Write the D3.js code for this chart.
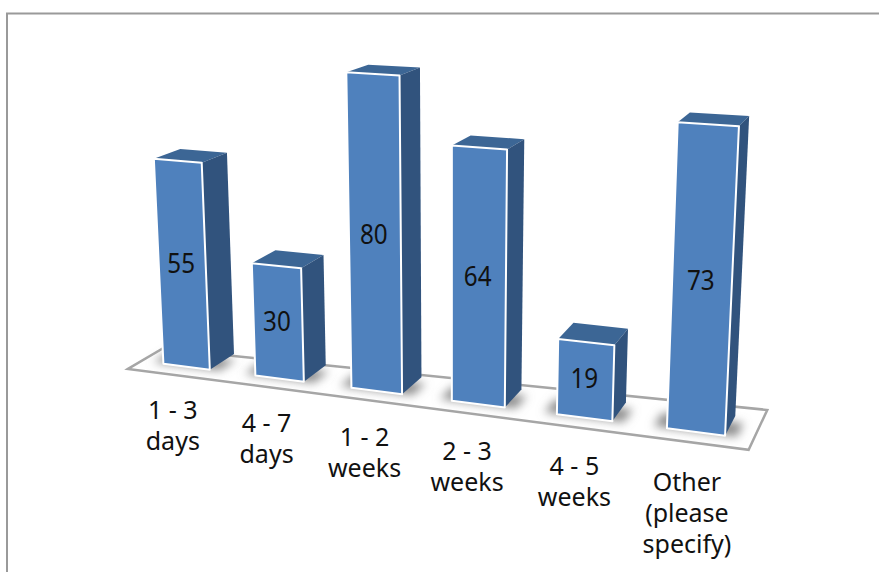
<!DOCTYPE html>
<html>
<head>
<meta charset="utf-8">
<script src="https://d3js.org/d3.v7.min.js"></script>
<style>
body { margin: 0; background: #fff; }
text { font-family: "Noto Sans", sans-serif; fill: #111; }
</style>
</head>
<body>
<svg id="chart" width="879" height="572"></svg>
<script>
const categories = [["1 - 3", "days"], ["4 - 7", "days"], ["1 - 2", "weeks"], ["2 - 3", "weeks"], ["4 - 5", "weeks"], ["Other", "(please", "specify)"]];
const values = [55, 30, 80, 64, 19, 73];

const svg = d3.select("#chart");

// column, height and depth in, screen out
const camX = [86.1211, -20.9694, 30.7583, 141.455];
const camY = [3.80301, -303.922, -4.95928, 360.944];
const camW = [-0.0210873, -0.0464667, 0.029665, 1];

const x = d3.scaleBand().domain(d3.range(categories.length)).range([0, 6]).paddingInner(0.49).paddingOuter(0.245);
const y = d3.scaleLinear().domain([0, 80]).range([0, 1]);

function project(cx, cy, cz) {
    const w = camW[0] * cx + camW[1] * cy + camW[2] * cz + camW[3];
    return [
        (camX[0] * cx + camX[1] * cy + camX[2] * cz + camX[3]) / w,
        (camY[0] * cx + camY[1] * cy + camY[2] * cz + camY[3]) / w
    ];
}

const line = d3.line().curve(d3.curveLinearClosed);
const face = pts => line(pts.map(p => project(p[0], p[1], p[2])));

const defs = svg.append("defs");
defs.append("filter").attr("id", "soft")
    .attr("x", "-40%").attr("y", "-40%").attr("width", "180%").attr("height", "180%")
    .append("feGaussianBlur").attr("stdDeviation", 5);

// chart border, runs off the picture on the right and at the bottom
svg.append("path")
    .attr("d", "M7,572V13.5H879")
    .attr("fill", "none")
    .attr("stroke", "#9a9a9a")
    .attr("stroke-width", 2);

// floor
svg.append("path")
    .attr("d", face([[0, 0, -0.5], [0, 0, 0.8], [6, 0, 1.5], [6, 0, -0.5]]))
    .attr("fill", "#fff")
    .attr("stroke", "#a6a6a6")
    .attr("stroke-width", 2.5)
    .attr("stroke-linejoin", "miter");

// soft shadows round the foot of each bar
svg.append("g").selectAll("path")
    .data(values)
    .enter().append("path")
    .attr("d", (d, i) => {
        const l = x(i) - 0.12, r = x(i) + x.bandwidth() + 0.1;
        return face([[l, 0, 0.02], [r, 0, 0.02], [r, 0, 0.7], [l, 0, 0.7]]);
    })
    .attr("fill", "#8c8c8c")
    .attr("filter", "url(#soft)");

const bars = svg.append("g").selectAll("g")
    .data(values)
    .enter().append("g");

// top
bars.append("path")
    .attr("d", (d, i) => {
        const l = x(i), r = l + x.bandwidth(), h = y(d);
        return face([[l, h, 0], [r, h, 0], [r, h, 1], [l, h, 1]]);
    })
    .attr("fill", "#3c6695");

// side
bars.append("path")
    .attr("d", (d, i) => {
        const r = x(i) + x.bandwidth(), h = y(d);
        return face([[r, 0, 0], [r, h, 0], [r, h, 1], [r, 0, 1]]);
    })
    .attr("fill", "#31537d");

// front
bars.append("path")
    .attr("d", (d, i) => {
        const l = x(i), r = l + x.bandwidth(), h = y(d);
        return face([[l, 0, 0], [r, 0, 0], [r, h, 0], [l, h, 0]]);
    })
    .attr("fill", "#4f81bd")
    .attr("stroke", "#fff")
    .attr("stroke-width", 2)
    .attr("stroke-linejoin", "round");

// value labels, the digits are tall and narrow in the picture
svg.append("g").selectAll("text")
    .data(values)
    .enter().append("text")
    .attr("transform", (d, i) => {
        const p = project(x(i) + x.bandwidth() / 2, y(d / 2), 0);
        return "translate(" + (p[0] - 1) + "," + (p[1] + 8) + ") scale(0.97,1.1)";
    })
    .attr("text-anchor", "middle")
    .attr("font-size", 25)
    .text(d => d);

// category labels
const cats = svg.append("g").selectAll("text")
    .data(categories)
    .enter().append("text")
    .attr("transform", (d, i) => {
        const p = project(x(i) + x.bandwidth() / 2, y(-9.5), -0.55);
        return "translate(" + (p[0] - 1) + "," + (p[1] + 9) + ")";
    })
    .attr("text-anchor", "middle")
    .attr("font-size", 25);

cats.selectAll("tspan")
    .data(d => d)
    .enter().append("tspan")
    .attr("x", 0)
    .attr("y", (d, i) => i * 31)
    .text(d => d);
</script>
</body>
</html>
